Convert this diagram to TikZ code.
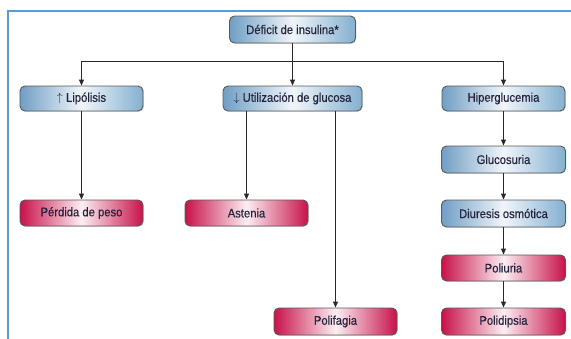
\documentclass[tikz,border=0pt]{standalone}
\usepackage{fontspec}
\setmainfont{Liberation Sans}[FakeStretch=0.9,FakeBold=0.35]
\usetikzlibrary{arrows.meta,shadows}
\definecolor{frameblue}{RGB}{91,155,213}
\definecolor{bl}{RGB}{112,158,196}
\definecolor{blr}{RGB}{132,176,208}
\definecolor{blm}{RGB}{240,245,250}
\definecolor{rd}{RGB}{200,18,74}
\definecolor{rdm}{RGB}{252,238,242}
\definecolor{txt}{RGB}{35,35,60}
\definecolor{ln}{RGB}{40,40,40}
\tikzset{
  box/.style={draw=black!65, line width=0.9pt, rounded corners=5pt, minimum width=123pt, minimum height=26pt, inner sep=0pt, font=\fontsize{12.5}{13}\selectfont, text=txt,
    drop shadow={shadow xshift=0.8pt, shadow yshift=-0.8pt, opacity=0.25}},
  bluebox/.style={box, left color=bl, right color=blr, middle color=blm},
  redbox/.style={box, left color=rd, right color=rd, middle color=rdm},
  arr/.style={draw=ln, line width=0.9pt, -{Triangle[length=6pt,width=5pt]}},
  plain/.style={draw=ln, line width=0.9pt}
}
\begin{document}
\begin{tikzpicture}[x=1pt,y=-1pt]
\useasboundingbox (0,0) rectangle (571,338);
\fill[white] (0,0) rectangle (571,338);
\draw[frameblue, line width=2pt] (8,340) -- (8,10.5) -- (573,10.5);
\node[bluebox, minimum width=126pt, minimum height=27pt] (def) at (292.5,29.5) {Déficit de insulina*};
\node[bluebox, minimum height=25pt] (lip) at (81.5,98.5) {$\uparrow$ Lipólisis};
\node[bluebox, minimum width=139pt, minimum height=25pt] (util) at (292.5,98.5) {$\downarrow$ Utilización de glucosa};
\node[bluebox, minimum height=25pt] (hip) at (503.5,98.5) {Hiperglucemia};
\node[bluebox, minimum width=124pt, minimum height=27pt] (glu) at (503.5,159.5) {Glucosuria};
\node[bluebox, minimum width=124pt, minimum height=27pt] (diu) at (503.5,213.5) {Diuresis osmótica};
\node[redbox] (per) at (81.5,213) {Pérdida de peso};
\node[redbox] (ast) at (246.5,213) {Astenia};
\node[redbox, minimum height=27pt] (pfa) at (335.5,321.5) {Polifagia};
\node[redbox, minimum width=124pt] (pur) at (503.5,268) {Poliuria};
\node[redbox, minimum width=124pt, minimum height=27pt] (pdi) at (503.5,321.5) {Polidipsia};
\coordinate (j) at (292.5,61.5);
\draw[plain] (def.south) -- (j);
\draw[arr] (j) -| (lip.north);
\draw[arr] (j) -| (hip.north);
\draw[arr] (j) -- (util.north);
\draw[arr] (lip.south) -- (per.north);
\draw[arr] (ast.north |- util.south) -- (ast.north);
\draw[arr] (pfa.north |- util.south) -- (pfa.north);
\draw[arr] (hip.south) -- (glu.north);
\draw[arr] (glu.south) -- (diu.north);
\draw[arr] (diu.south) -- (pur.north);
\draw[arr] (pur.south) -- (pdi.north);
\end{tikzpicture}
\end{document}
